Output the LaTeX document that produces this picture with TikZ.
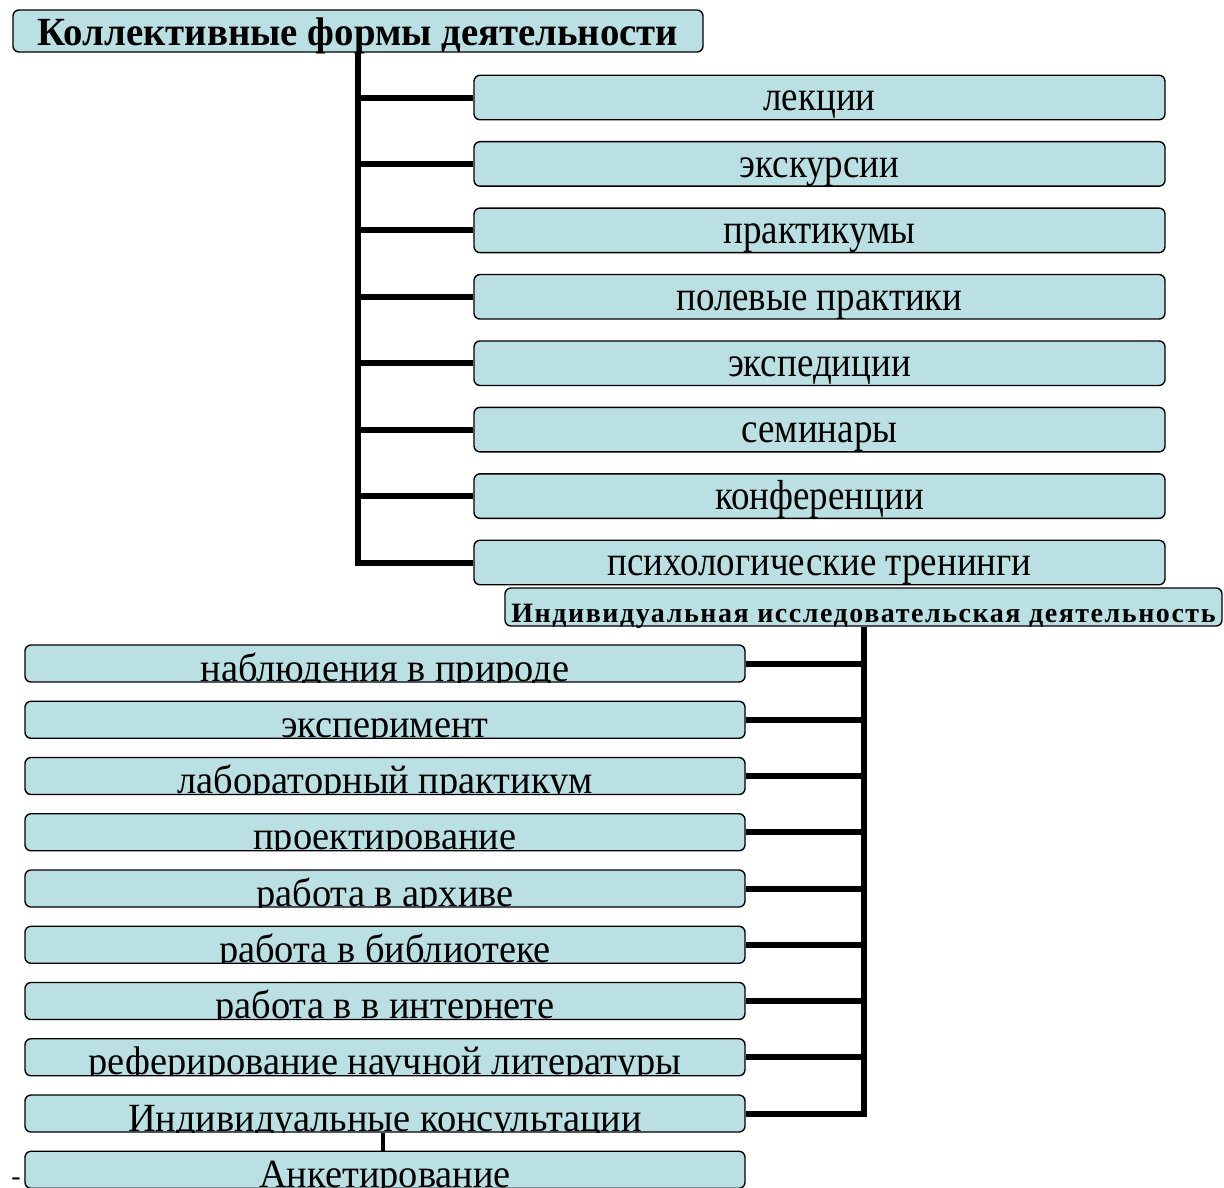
\documentclass[tikz,border=0pt]{standalone}
\usepackage{fontspec}
\setmainfont{Liberation Serif}
\newfontfamily\spacedbold[LetterSpace=5.5]{Liberation Serif Bold}
\newcommand\condtext[1]{\scalebox{0.88}[1]{#1}}
\begin{document}
\begin{tikzpicture}[x=1pt,y=-1pt,
  box/.style={draw=black, line width=1.4pt, fill=boxfill, rounded corners=6pt, inner sep=0pt},
  rbox/.style={box, minimum width=691pt, minimum height=44.5pt, text height=35.5pt, text depth=9pt,
     font=\fontsize{42}{44}\selectfont},
  lbox/.style={box, minimum width=720pt, minimum height=37pt,
     path picture={\node[anchor=base, inner sep=0pt, font=\fontsize{40}{42}\selectfont]
        at ([yshift=1pt]path picture bounding box.south) {\scalebox{0.96}[1]{#1}};}},
  trunk/.style={line width=6pt, line join=miter},
  thinconn/.style={line width=4pt}]
\definecolor{boxfill}{HTML}{BAE0E3}
\useasboundingbox (0,0) rectangle (1224,1187);

\node[box, minimum width=690pt, minimum height=42pt, text height=35pt, text depth=7pt,
  font=\bfseries\fontsize{40}{42}\selectfont] (title) at (358,31) {\scalebox{0.97}[1]{Коллективные формы деятельности}};

\foreach \t [count=\i from 0] in {лекции,экскурсии,практикумы,полевые практики,экспедиции,семинары,конференции,психологические тренинги}{
  \node[rbox] (r\i) at (819.5,{97.5+66.43*\i}) {\condtext{\t}};
}

\node[box, minimum width=717pt, minimum height=38pt, text height=34.5pt, text depth=3.5pt,
  font=\spacedbold\fontsize{28}{30}\selectfont] (ind) at (863.5,607) {Индивидуальная исследовательская деятельность};

\foreach \t [count=\i from 0] in {наблюдения в природе,эксперимент,лабораторный практикум,проектирование,работа в архиве,работа в библиотеке,работа в в интернете,реферирование научной литературы,Индивидуальные консультации,Анкетирование}{
  \node[lbox=\t] (l\i) at (385,{663.5+56.25*\i}) {};
}

\node[inner sep=0pt, font=\fontsize{28}{30}\selectfont, anchor=base] (dash) at (16,1185) {-};

% connectors of the first group
\draw[trunk] (title.south) |- (r7.west);
\foreach \i in {0,...,6}{
  \draw[trunk] (r\i.west) -- (r\i.west -| title.south);
}
% connectors of the second group
\draw[trunk] (ind.south) |- (l8.east);
\foreach \i in {0,...,7}{
  \draw[trunk] (l\i.east) -- (l\i.east -| ind.south);
}
\coordinate (k) at (383,0);
\draw[thinconn] (l8.south -| k) -- (l9.north -| k);
\end{tikzpicture}
\end{document}
